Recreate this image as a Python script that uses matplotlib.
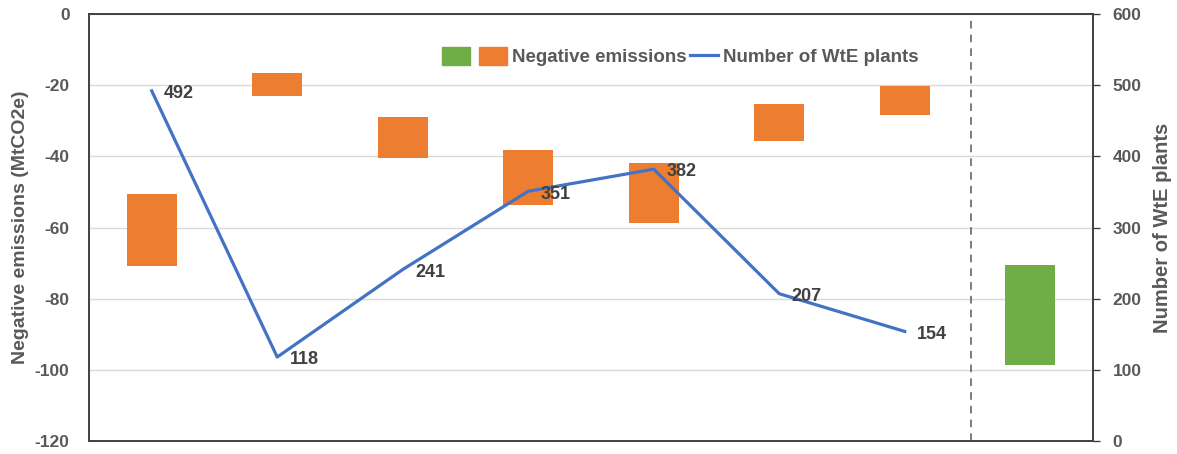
import numpy as np
import matplotlib
matplotlib.use('Agg')
import matplotlib.pyplot as plt
from matplotlib.patches import Patch
from matplotlib.lines import Line2D

plt.rcParams['font.family'] = ['Liberation Sans', 'DejaVu Sans']
plt.rcParams['font.weight'] = 'bold'
plt.rcParams['axes.unicode_minus'] = False

# floating bars: top / bottom of each step (MtCO2e)
emis_top = [-50.5, -16.6, -29.0, -38.2, -42.0, -25.4, -20.2]
emis_bottom = [-70.8, -23.0, -40.6, -53.7, -58.6, -35.7, -28.4]
total_top = -70.6
total_bottom = -98.7
# number of WtE plants per step
plants = [492, 118, 241, 351, 382, 207, 154]

orange = '#ED7D31'
green = '#70AD47'
blue = '#4472C4'
txt = '#595959'
frame = '#404040'

x = np.arange(len(emis_top))
x_total = len(emis_top)

fig = plt.figure(figsize=(11.77, 4.54), dpi=100)
ax = fig.add_axes([0.0756, 0.0286, 0.853, 0.9405])

heights = np.array(emis_top) - np.array(emis_bottom)
ax.bar(x, heights, bottom=emis_bottom, width=0.4, color=orange, zorder=2)
ax.bar([x_total], [total_top - total_bottom], bottom=[total_bottom], width=0.4,
       color=green, zorder=2)

ax.set_xlim(-0.5, 7.5)
ax.set_ylim(-120, 0)
ax.set_yticks(np.arange(-120, 1, 20))
ax.set_xticks([])
ax.grid(axis='y', color='#D9D9D9', linewidth=1, zorder=0)
ax.set_axisbelow(True)
ax.tick_params(axis='y', length=0, pad=14, labelsize=12.5, labelcolor=txt)
ax.set_ylabel('Negative emissions (MtCO2e)', fontsize=14, color=txt,
              fontweight='bold', labelpad=4)
for s in ax.spines.values():
    s.set_color(frame)
    s.set_linewidth(1.2)

# separator before the total bar
ax.axvline(6.53, color='#595959', linestyle=(0, (5, 4)), linewidth=1.1, zorder=1)

ax2 = ax.twinx()
ax2.plot(x, plants, color=blue, linewidth=2.3, zorder=3)
ax2.set_ylim(0, 600)
ax2.set_yticks(np.arange(0, 601, 100))
ax2.tick_params(axis='y', length=5, width=1, color=frame, pad=9,
                labelsize=12.5, labelcolor=txt)
ax2.set_ylabel('Number of WtE plants', fontsize=14.5, color=txt,
               fontweight='bold', labelpad=8)
for s in ax2.spines.values():
    s.set_color(frame)
    s.set_linewidth(1.2)

for xi, v in zip(x, plants):
    ax2.annotate(str(v), (xi, v), xytext=(9, -2), textcoords='offset points',
                 ha='left', va='center', fontsize=13, fontweight='bold',
                 color='#404040', zorder=4)

handles = [Patch(color=green), Patch(color=orange),
           Line2D([], [], color=blue, linewidth=2.3)]
labels = ['', 'Negative emissions', 'Number of WtE plants']
leg = ax.legend(handles, labels, ncol=3, loc='center',
                bbox_to_anchor=(0.589, 0.9), frameon=False,
                handlelength=1.5, handleheight=1.1, handletextpad=0.25,
                columnspacing=0.2, prop={'size': 13.5, 'weight': 'bold'})
for t in leg.get_texts():
    t.set_color(txt)
leg.set_zorder(5)

fig.savefig('out.png', dpi=100)
